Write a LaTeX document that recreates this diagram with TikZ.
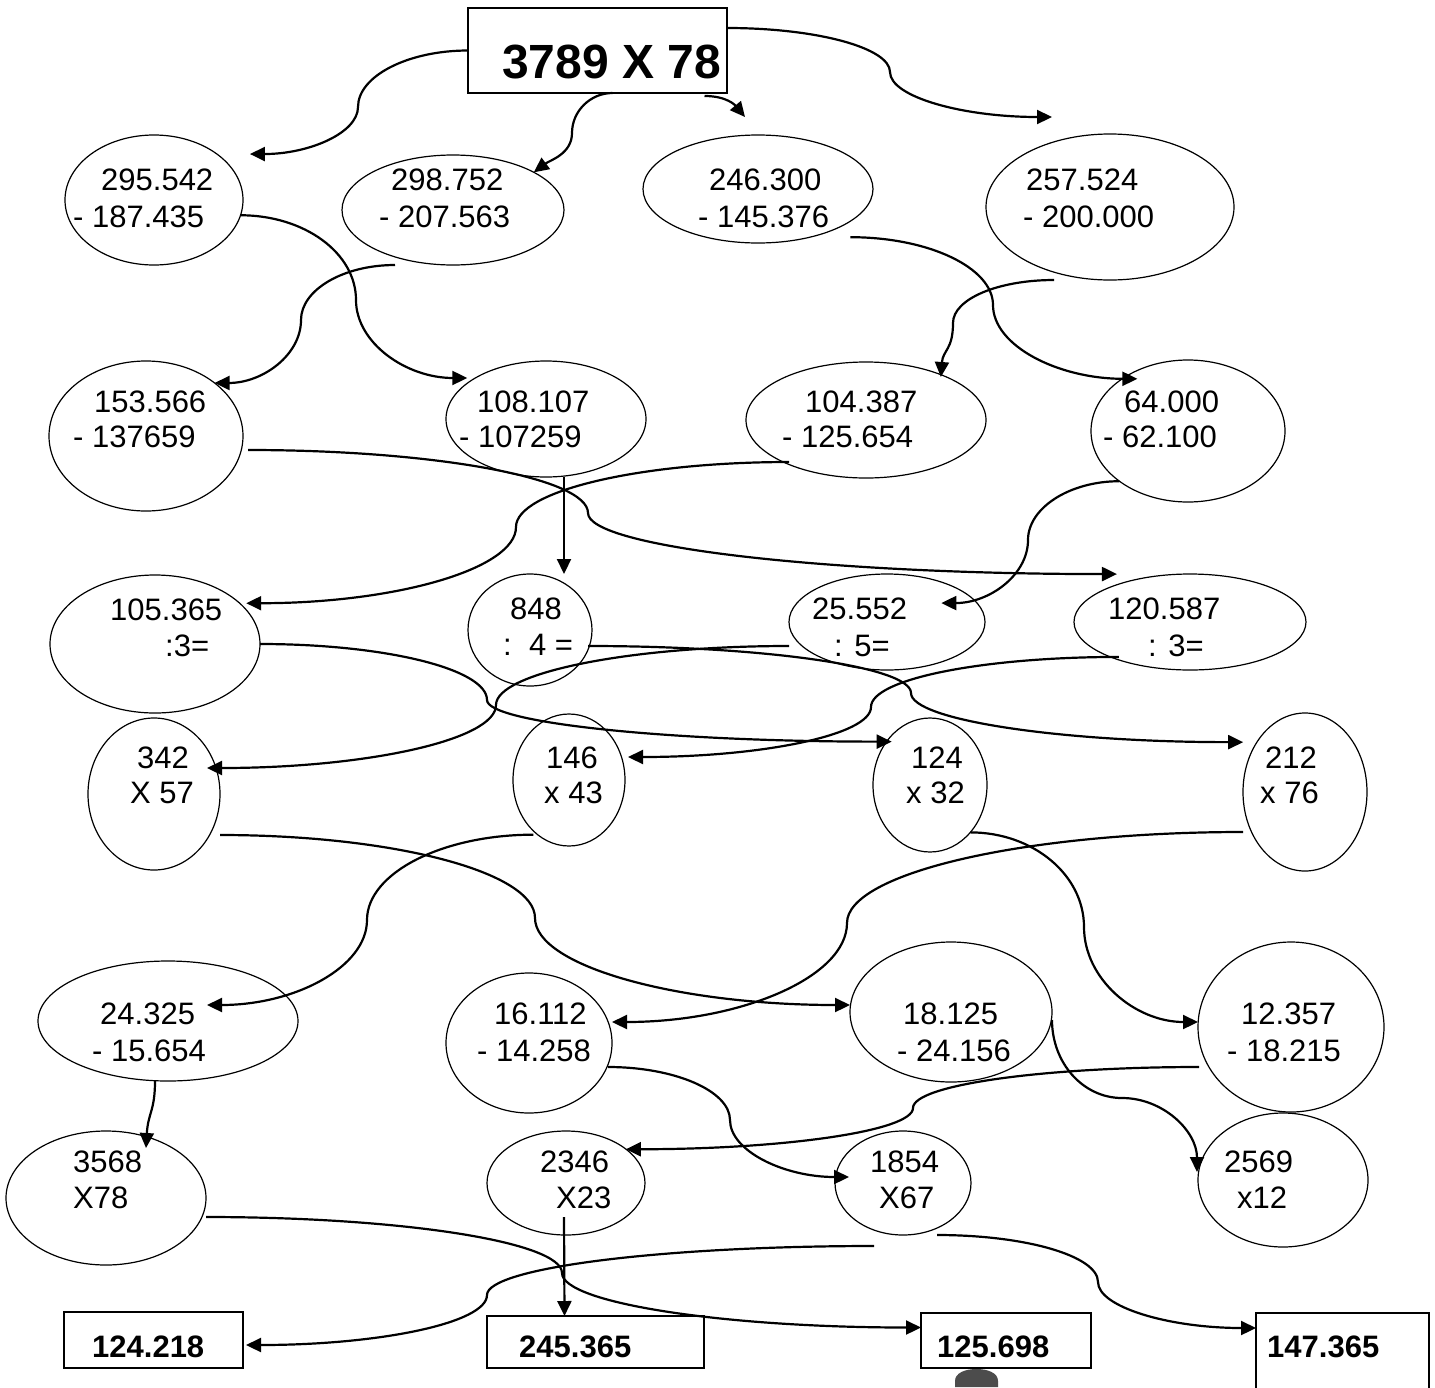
\documentclass[tikz,border=0pt]{standalone}
\usepackage{fontspec}
\setmainfont{Liberation Sans}
\usetikzlibrary{shapes,arrows.meta,positioning,calc}

\tikzset{
  oval/.style={draw, ellipse, line width=1.2pt, inner sep=0pt, outer sep=0pt},
  box/.style={draw, rectangle, line width=1.6pt, inner sep=0pt, outer sep=0pt},
  num/.style={anchor=base west, inner sep=0pt, font=\fontsize{31}{37}\selectfont},
  res/.style={anchor=base west, inner sep=0pt, font=\fontsize{31}{37}\selectfont\bfseries},
  link/.style={line width=2.2pt, -{Triangle[length=15pt,width=14pt]}}
}

\begin{document}
\begin{tikzpicture}[x=1pt,y=-1pt]
\fill[white] (0,0) rectangle (1435,1387);
\useasboundingbox (0,0) rectangle (1435,1387);

% Task box
\node[box, minimum width=259, minimum height=85] (top) at (597.5,50.5) {};
\node[anchor=base west, inner sep=0pt, font=\fontsize{48}{56}\selectfont\bfseries] (toptxt) at (502,78) {3789 X 78};

% Row 1
\node[oval, minimum width=178, minimum height=130] (A1) at (154,200) {};
\node[oval, minimum width=222, minimum height=110] (A2) at (453,210) {};
\node[oval, minimum width=230, minimum height=108] (A3) at (758,189) {};
\node[oval, minimum width=248, minimum height=146] (A4) at (1110,207) {};
\node[num] (A1a) at (101,190) {295.542};
\node[num] (A1b) at (73,227) {- 187.435};
\node[num] (A2a) at (391,190) {298.752};
\node[num] (A2b) at (379,227) {- 207.563};
\node[num] (A3a) at (709,190) {246.300};
\node[num] (A3b) at (698,227) {- 145.376};
\node[num] (A4a) at (1026,190) {257.524};
\node[num] (A4b) at (1023,227) {- 200.000};

% Row 2
\node[oval, minimum width=194, minimum height=150] (B1) at (146,436) {};
\node[oval, minimum width=200, minimum height=116] (B2) at (546,419) {};
\node[oval, minimum width=240, minimum height=116] (B3) at (866,420) {};
\node[oval, minimum width=194, minimum height=142] (B4) at (1188,431) {};
\node[num] (B1a) at (94,412) {153.566};
\node[num] (B1b) at (73,447) {- 137659};
\node[num] (B2a) at (477,412) {108.107};
\node[num] (B2b) at (459,447) {- 107259};
\node[num] (B3a) at (805,412) {104.387};
\node[num] (B3b) at (782,447) {- 125.654};
\node[num] (B4a) at (1124,412) {64.000};
\node[num] (B4b) at (1103,447) {- 62.100};

% Row 3
\node[oval, minimum width=210, minimum height=138] (C1) at (155,644) {};
\node[oval, minimum width=124, minimum height=112] (C2) at (530,630) {};
\node[oval, minimum width=196, minimum height=96] (C3) at (887,622) {};
\node[oval, minimum width=232, minimum height=96] (C4) at (1190,622) {};
\node[num] (C1a) at (110,620) {105.365};
\node[num] (C1b) at (165,656) {:3=};
\node[num] (C2a) at (510,619) {848};
\node[num] (C2b) at (503,655) {:\ \ 4 =};
\node[num] (C3a) at (812,619) {25.552};
\node[num] (C3b) at (834,656) {: 5=};
\node[num] (C4a) at (1108,619) {120.587};
\node[num] (C4b) at (1148,656) {: 3=};

% Row 4
\node[oval, minimum width=132, minimum height=152] (D1) at (154,794) {};
\node[oval, minimum width=112, minimum height=132] (D2) at (569,780) {};
\node[oval, minimum width=114, minimum height=134] (D3) at (930,785) {};
\node[oval, minimum width=124, minimum height=158] (D4) at (1305,792) {};
\node[num] (D1a) at (137,768) {342};
\node[num] (D1b) at (130,803) {X 57};
\node[num] (D2a) at (546,768) {146};
\node[num] (D2b) at (544,803) {x 43};
\node[num] (D3a) at (911,768) {124};
\node[num] (D3b) at (906,803) {x 32};
\node[num] (D4a) at (1265,768) {212};
\node[num] (D4b) at (1260,803) {x 76};

% Row 5
\node[oval, minimum width=260, minimum height=120] (E1) at (168,1021) {};
\node[oval, minimum width=166, minimum height=140] (E2) at (529,1043) {};
\node[oval, minimum width=202, minimum height=140] (E3) at (951,1012) {};
\node[oval, minimum width=186, minimum height=170] (E4) at (1291,1027) {};
\node[num] (E1a) at (100,1024) {24.325};
\node[num] (E1b) at (92,1061) {- 15.654};
\node[num] (E2a) at (494,1024) {16.112};
\node[num] (E2b) at (477,1061) {- 14.258};
\node[num] (E3a) at (903,1024) {18.125};
\node[num] (E3b) at (897,1061) {- 24.156};
\node[num] (E4a) at (1241,1024) {12.357};
\node[num] (E4b) at (1227,1061) {- 18.215};

% Row 6
\node[oval, minimum width=200, minimum height=134] (F1) at (106,1198) {};
\node[oval, minimum width=158, minimum height=104] (F2) at (566,1183) {};
\node[oval, minimum width=136, minimum height=104] (F3) at (903,1183) {};
\node[oval, minimum width=170, minimum height=134] (F4) at (1283,1180) {};
\node[num] (F1a) at (73,1172) {3568};
\node[num] (F1b) at (73,1208) {X78};
\node[num] (F2a) at (540,1172) {2346};
\node[num] (F2b) at (556,1208) {X23};
\node[num] (F3a) at (870,1172) {1854};
\node[num] (F3b) at (879,1208) {X67};
\node[num] (F4a) at (1224,1172) {2569};
\node[num] (F4b) at (1237,1208) {x12};

% Small dark figure under a result box
\fill[black!70] (955,1387) -- (955,1381) .. controls (955,1373) and (965,1369) .. (976.5,1369)
  .. controls (988,1369) and (998,1373) .. (998,1381) -- (998,1387) -- cycle;

% Result boxes
\node[box, minimum width=179, minimum height=56] (G1) at (153.5,1340) {};
\node[box, minimum width=217, minimum height=52] (G2) at (595.5,1342) {};
\node[box, minimum width=170, minimum height=55] (G3) at (1006,1340.5) {};
\node[box, minimum width=173, minimum height=107] (G4) at (1342.5,1366.5) {};
\node[res] (G1t) at (92,1357) {124.218};
\node[res] (G2t) at (519,1357) {245.365};
\node[res] (G3t) at (937,1357) {125.698};
\node[res] (G4t) at (1267,1357) {147.365};

% Task box to row 1
\draw[link] (top.west) .. controls +(-60,0) and +(0,-31) .. (358,107)
  .. controls +(0,26) and +(59,0) .. ($(A1.north east)+(33,0)$);
\draw[link] ($(top.south)+(15,0)$) .. controls +(-22,0) and +(0,-22) .. (572,133)
  .. controls +(0,21) and +(16,-12) .. (A2.25);
\draw[link] ($(top.south)+(107,3)$) .. controls +(22,0) and +(-10,-12) .. ($(A3.north)+(-13,-18)$);
\draw[link] ($(top.north east)+(0,20)$) .. controls +(90,0) and +(0,-24) .. (890,72)
  .. controls +(0,25) and +(-89,0) .. ($(A4.north)+(-58,-17)$);

% Row 1 to row 2
\draw[link] (A1.-10) .. controls +(64,0) and +(0,-47) .. (356,300)
  .. controls +(0,43) and +(-61,0) .. ($(B2.north west)+(-8,0)$);
\draw[link] ($(A2.south)+(-58,0)$) .. controls +(-52,0) and +(0,-30) .. (301,320)
  .. controls +(0,35) and +(48,0) .. (B1.north east);
\draw[link] ($(A3.south east)+(11,10)$) .. controls +(79,0) and +(0,-37) .. (993,305)
  .. controls +(0,41) and +(-79,0) .. ($(B4.north west)+(18,-2)$);
\draw[link] ($(A4.south)+(-56,0)$) .. controls +(-56,0) and +(0,-24) .. (953,323)
  .. controls +(0,27) and +(2,-27) .. ($(B3.north east)+(-10,-2)$);

% Row 2 to row 3
\draw[link] ($(B1.east)+(5,14)$) .. controls +(187,0) and +(0,-35) .. (588,513)
  .. controls +(0,34) and +(-291,0) .. ($(C4.north west)+(9,-14)$);
\draw[link] ($(B3.south west)+(8,1)$) .. controls +(-150,0) and +(0,-36) .. (516,527)
  .. controls +(0,42) and +(149,0) .. ($(C1.north east)+(17,8)$);
\draw[link] ($(B2.south)+(18,0)$) -- ($(C2.north)+(34,0)$);
\draw[link] (B4.south west) .. controls +(-50,0) and +(0,-32) .. (1028,540)
  .. controls +(0,35) and +(48,0) .. ($(C3.north east)+(-15,15)$);

% Row 3 to row 4
\draw[link] (C1.east) .. controls +(125,0) and +(0,-31) .. (487,700)
  .. controls +(0,23) and +(-223,0) .. ($(D3.north west)+(2,4)$);
\draw[link] ($(C2.east)+(-4,16)$) .. controls +(178,0) and +(0,-26) .. (911,693)
  .. controls +(0,27) and +(-183,0) .. ($(D4.north west)+(-18,6)$);
\draw[link] ($(C3.west)+(0,24)$) .. controls +(-161,0) and +(0,-32) .. (496,705)
  .. controls +(0,35) and +(159,0) .. ($(D1.east)+(-13,-26)$);
\draw[link] ($(C4.south west)+(11,1)$) .. controls +(-136,0) and +(0,-28) .. (871,707)
  .. controls +(0,28) and +(134,0) .. ($(D2.east)+(3,-23)$);

% Row 4 to row 5
\draw[link] ($(D1.east)+(0,41)$) .. controls +(173,0) and +(0,-46) .. (535,918)
  .. controls +(0,48) and +(-173,0) .. ($(E3.west)+(0,-7)$);
\draw[link] ($(D2.south west)+(4,8)$) .. controls +(-91,0) and +(0,-47) .. (367,920)
  .. controls +(0,47) and +(88,0) .. ($(E1.center)+(39,-16)$);
\draw[link] (D3.south east) .. controls +(63,0) and +(0,-52) .. (1084,927)
  .. controls +(0,52) and +(-63,0) .. ($(E4.west)+(0,-5)$);
\draw[link] ($(D4.west)+(0,40)$) .. controls +(-218,0) and +(0,-50) .. (847,923)
  .. controls +(0,54) and +(129,0) .. ($(E2.east)+(0,-21)$);

% Row 5 to row 6
\draw[link] ($(E1.south)+(-13,0)$) .. controls +(0,30) and +(2,-35) .. ($(F1.north)+(40,17)$);
\draw[link] ($(E2.east)+(-4,24)$) .. controls +(67,0) and +(0,-29) .. (730,1120)
  .. controls +(0,31) and +(-65,0) .. ($(F3.west)+(14,-6)$);
\draw[link] ($(E3.east)+(0,8)$) .. controls +(0,43) and +(-39,0) .. (1122,1098)
  .. controls +(41,0) and +(0,-41) .. ($(F4.west)+(-1,-8)$);
\draw[link] ($(E4.west)+(1,40)$) .. controls +(-157,0) and +(0,-23) .. (913,1108)
  .. controls +(0,23) and +(158,0) .. ($(F2.north east)+(4,3)$);

% Row 6 to results
\draw[link] ($(F1.east)+(0,19)$) .. controls +(196,0) and +(0,-31) .. (562,1273)
  .. controls +(0,30) and +(-197,0) .. ($(G3.west)+(0,-13)$);
\draw[link] ($(F2.south)+(-2,-18)$) -- ($(G2.north)+(-31,0)$);
\draw[link] ($(F3.south)+(-29,11)$) .. controls +(-213,0) and +(0,-27) .. (487,1295)
  .. controls +(0,28) and +(133,0) .. ($(G1.east)+(3,5)$);
\draw[link] ($(F3.south)+(34,0)$) .. controls +(89,0) and +(0,-26) .. (1098,1282)
  .. controls +(0,25) and +(-87,0) .. ($(G4.north west)+(0,15)$);

\end{tikzpicture}
\end{document}
